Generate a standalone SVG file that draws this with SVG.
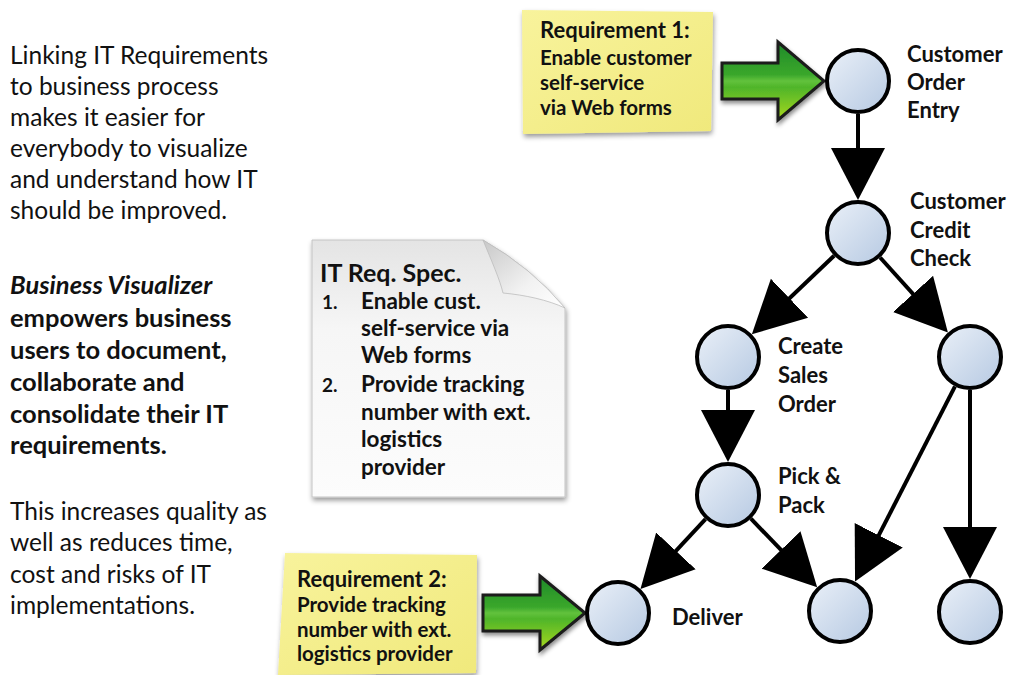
<svg xmlns="http://www.w3.org/2000/svg" width="1014" height="675" viewBox="0 0 1014 675">
<style>
text{font-family:Lato,"Liberation Sans",sans-serif;fill:#111}
.lt{font-size:24.5px}
.lb{font-size:25.5px;font-weight:bold}
.nt{font-size:22px;font-weight:bold}
.st{font-size:20.5px;font-weight:bold}
.sh{font-size:22px;font-weight:bold}
.dt{font-size:22.5px;font-weight:bold}
.dn{font-size:19px;font-weight:bold}
.dh{font-size:25px;font-weight:bold}
.nc{fill:url(#cg);stroke:#000;stroke-width:4}
.cn{stroke:#000;stroke-width:4;fill:none;marker-end:url(#ah)}
.ga{stroke:#1a1a1a;stroke-width:3;stroke-linejoin:miter;filter:url(#sh)}
.note{filter:url(#sh2)}
</style>
<defs>
<linearGradient id="cg" x1="0" y1="0" x2="1" y2="1">
<stop offset="0" stop-color="#eaf0f8"/><stop offset="1" stop-color="#b6c9e2"/>
</linearGradient>
<linearGradient id="gg" x1="0" y1="0" x2="0" y2="1">
<stop offset="0" stop-color="#1f8a2a"/><stop offset="0.42" stop-color="#3aa72c"/><stop offset="0.5" stop-color="#62c23c"/><stop offset="0.58" stop-color="#4fb52a"/><stop offset="1" stop-color="#a8d81e"/>
</linearGradient>
<linearGradient id="yg" x1="0" y1="0" x2="1" y2="1">
<stop offset="0" stop-color="#f8f39c"/><stop offset="1" stop-color="#f0e97c"/>
</linearGradient>
<linearGradient id="pg" x1="0" y1="0" x2="0" y2="1">
<stop offset="0" stop-color="#e4e4e4"/><stop offset="0.35" stop-color="#f6f6f6"/><stop offset="1" stop-color="#fcfcfc"/>
</linearGradient>
<linearGradient id="fg" x1="0" y1="0" x2="1" y2="1">
<stop offset="0" stop-color="#c8c8c8"/><stop offset="0.6" stop-color="#f2f2f2"/><stop offset="1" stop-color="#ffffff"/>
</linearGradient>
<filter id="sh" x="-20%" y="-20%" width="140%" height="150%">
<feDropShadow dx="1" dy="3" stdDeviation="2" flood-color="#000" flood-opacity="0.45"/>
</filter>
<filter id="sh2" x="-10%" y="-10%" width="120%" height="125%">
<feDropShadow dx="1" dy="3" stdDeviation="2.5" flood-color="#000" flood-opacity="0.4"/>
</filter>
<marker id="ah" markerUnits="userSpaceOnUse" markerWidth="54" markerHeight="56" viewBox="0 0 54 56" refX="42" refY="28" orient="auto">
<path d="M0,1 L52,28 L0,55 Z" fill="#000"/>
</marker>
</defs>
<rect width="1014" height="675" fill="#fff"/>

<g id="intro-text">
<text class="lt" x="10" y="64">Linking IT Requirements</text>
<text class="lt" x="10" y="95">to business process</text>
<text class="lt" x="10" y="126">makes it easier for</text>
<text class="lt" x="10" y="157">everybody to visualize</text>
<text class="lt" x="10" y="188">and understand how IT</text>
<text class="lt" x="10" y="219">should be improved.</text>
<text class="lb" x="10" y="294" font-style="italic">Business Visualizer</text>
<text class="lb" x="10" y="327">empowers business</text>
<text class="lb" x="10" y="359">users to document,</text>
<text class="lb" x="10" y="391">collaborate and</text>
<text class="lb" x="10" y="423">consolidate their IT</text>
<text class="lb" x="10" y="454">requirements.</text>
<text class="lt" x="10" y="520">This increases quality as</text>
<text class="lt" x="10" y="551">well as reduces time,</text>
<text class="lt" x="10" y="583">cost and risks of IT</text>
<text class="lt" x="10" y="614">implementations.</text>
</g>

<g id="spec-doc">
<path d="M312,240 L483,240 Q532,268 565,308 L565,497 L312,497 Z" fill="url(#pg)" stroke="#c4c4c4" stroke-width="1" filter="url(#sh2)"/>
<path d="M483,240 C492,262 500,280 503,293 C525,295 548,300 565,308 Q532,268 483,240 Z" fill="url(#fg)" stroke="#bdbdbd" stroke-width="0.8"/>
<text class="dh" x="320" y="282">IT Req. Spec.</text>
<text class="dn" x="322" y="309">1.</text>
<text class="dt" x="361" y="309">Enable cust.</text>
<text class="dt" x="361" y="336">self-service via</text>
<text class="dt" x="361" y="363">Web forms</text>
<text class="dn" x="322" y="392">2.</text>
<text class="dt" x="361" y="392">Provide tracking</text>
<text class="dt" x="361" y="420">number with ext.</text>
<text class="dt" x="361" y="447">logistics</text>
<text class="dt" x="361" y="475">provider</text>
</g>

<g id="req1-note">
<path class="note" d="M522,10 L713,12 L711,131 L523,134 Z" fill="url(#yg)"/>
<text class="sh" x="540" y="38">Requirement 1:</text>
<text class="st" x="540" y="65">Enable customer</text>
<text class="st" x="540" y="90">self-service</text>
<text class="st" x="540" y="115">via Web forms</text>
</g>

<g id="req2-note">
<path class="note" d="M285,553 L477,555 L476,673 L278,675 Z" fill="url(#yg)"/>
<text class="sh" x="297" y="587">Requirement 2:</text>
<text class="st" x="297" y="612">Provide tracking</text>
<text class="st" x="297" y="637">number with ext.</text>
<text class="st" x="297" y="661">logistics provider</text>
</g>

<g id="connectors">
<path class="ga" d="M722,63 L778,63 L778,42 L824,81 L778,120 L778,99 L722,99 Z" fill="url(#gg)"/>
<path class="ga" d="M483,595 L540,595 L540,576 L585,613 L540,650 L540,631 L483,631 Z" fill="url(#gg)"/>
<line class="cn" x1="858" y1="114" x2="858" y2="190"/>
<line class="cn" x1="834.1" y1="255.8" x2="759.1" y2="327.3"/>
<line class="cn" x1="880.1" y1="257.5" x2="941.2" y2="325.1"/>
<line class="cn" x1="728" y1="390" x2="728" y2="452"/>
<line class="cn" x1="705.5" y1="519.1" x2="647.3" y2="581.6"/>
<line class="cn" x1="750.9" y1="518.7" x2="810.2" y2="580.1"/>
<line class="cn" x1="955" y1="386.4" x2="859.6" y2="572.7"/>
<line class="cn" x1="970" y1="390" x2="970" y2="569"/>
</g>

<g id="node-customer-order-entry">
<circle class="nc" cx="858" cy="81" r="31"/>
<text class="nt" x="907" y="62">Customer</text>
<text class="nt" x="907" y="90">Order</text>
<text class="nt" x="907" y="118">Entry</text>
</g>
<g id="node-customer-credit-check">
<circle class="nc" cx="858" cy="233" r="31"/>
<text class="nt" x="910" y="209">Customer</text>
<text class="nt" x="910" y="238">Credit</text>
<text class="nt" x="910" y="266">Check</text>
</g>
<g id="node-create-sales-order">
<circle class="nc" cx="728" cy="357" r="31"/>
<text class="nt" x="778" y="354">Create</text>
<text class="nt" x="778" y="383">Sales</text>
<text class="nt" x="778" y="412">Order</text>
</g>
<g id="node-right">
<circle class="nc" cx="970" cy="357" r="31"/>
</g>
<g id="node-pick-pack">
<circle class="nc" cx="728" cy="495" r="31"/>
<text class="nt" x="778" y="484">Pick &amp;</text>
<text class="nt" x="778" y="513">Pack</text>
</g>
<g id="node-deliver">
<circle class="nc" cx="618" cy="613" r="31"/>
<text class="nt" x="672" y="625">Deliver</text>
</g>
<g id="node-bottom-middle">
<circle class="nc" cx="840" cy="611" r="31"/>
</g>
<g id="node-bottom-right">
<circle class="nc" cx="970" cy="612" r="31"/>
</g>
</svg>
